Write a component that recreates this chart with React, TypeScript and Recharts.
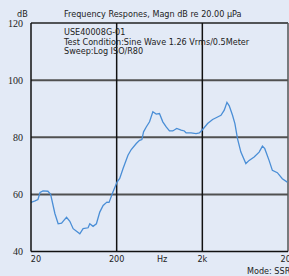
import React from "react";
import { LineChart, Line, XAxis, YAxis, ReferenceLine } from "recharts";

const freqHz = [
  20, 22.3, 24.1, 25.5, 27.6, 31.5, 33.9, 38.0, 41.5, 45.5, 48.4, 52.0, 56.8, 62.1, 68.0, 74.3,
  81.1, 92.8, 97.1, 106, 116, 127, 139, 154, 163, 181, 202, 217, 237, 271, 296, 339, 370, 394,
  412, 443, 484, 529, 579, 632, 691, 757, 827, 903, 1005, 1131, 1235, 1293, 1478, 1689, 1846,
  2016, 2305, 2636, 3013, 3300, 3606, 3876, 4122, 4502, 4800, 5146, 5636, 6444, 7039, 8050,
  9203, 10056, 10716, 12024, 13138, 15016, 17172, 19630,
];
const magnDb = [
  57.2, 57.7, 58.2, 60.7, 61.2, 61.1, 60.0, 53.3, 49.7, 49.9, 50.9, 52.0, 50.6, 48.0, 47.1, 46.2,
  48.0, 48.3, 49.7, 48.8, 49.7, 53.8, 56.1, 57.3, 57.2, 60.8, 64.3, 65.6, 69.0, 73.7, 75.7, 77.8,
  78.9, 79.2, 81.9, 83.6, 85.4, 88.9, 88.1, 88.3, 85.4, 83.6, 82.2, 82.2, 83.1, 82.5, 82.2, 81.5,
  81.5, 81.3, 81.5, 82.7, 84.8, 86.2, 87.1, 87.7, 89.5, 92.2, 91.0, 87.7, 84.8, 79.5, 74.8, 70.8,
  71.9, 73.1, 74.8, 76.9, 76.0, 71.9, 68.4, 67.6, 65.5, 64.3,
];
const xTicks = [20, 200, 2000, 20000];
const xTickLabels = ["20", "200", "2k", "20k"];
const yTicks = [40, 60, 80, 100, 120];
const hGrid = [60, 80, 100];
const vGrid = [200, 2000];
const titleText = "Frequency Respones, Magn dB re 20.00 µPa";
const noteLines = [
  "USE40008G-01",
  "Test Condition:Sine Wave 1.26 Vrms/0.5Meter",
  "Sweep:Log ISO/R80",
];

const data = freqHz.map((f, i) => ({ f, db: magnDb[i] }));

const SANS = "'DejaVu Sans', Verdana, sans-serif";
const SERIF = "'Liberation Serif', 'Times New Roman', serif";
const BG = "#e3eaf6";
const FS = 8.1;

const XTick = (props: any) => {
  const { x, y, payload } = props;
  const idx = xTicks.indexOf(payload.value);
  const label = idx >= 0 ? xTickLabels[idx] : String(payload.value);
  const dx = payload.value === 20 ? 5 : 0;
  return (
    <text x={x + dx} y={y} dy={2.5} textAnchor="middle" fontFamily={SANS} fontSize={FS} fill="#222">
      {label}
    </text>
  );
};

const YTick = (props: any) => {
  const { x, y, payload } = props;
  return (
    <text x={x} y={y} dy={3.5} textAnchor="end" fontFamily={SERIF} fontSize={10} fill="#222">
      {payload.value}
    </text>
  );
};

export default function App() {
  return (
    <div style={{ position: "absolute", left: 0, top: 0, width: 289, height: 276, background: BG, overflow: "hidden" }}>
      <LineChart width={289} height={276} data={data} margin={{ top: 23, right: 1, bottom: 4.5, left: 0 }}>
        <XAxis
          dataKey="f"
          type="number"
          scale="log"
          domain={[20, 20000]}
          ticks={xTicks}
          allowDataOverflow
          height={20}
          axisLine={{ stroke: "#111", strokeWidth: 1.5 }}
          tickLine={false}
          tick={<XTick />}
          interval={0}
        />
        <YAxis
          type="number"
          domain={[40, 120]}
          ticks={yTicks}
          width={31}
          axisLine={{ stroke: "#111", strokeWidth: 1.5 }}
          tickLine={false}
          tick={<YTick />}
          interval={0}
        />
        {hGrid.map((v) => (
          <ReferenceLine key={"h" + v} y={v} stroke="#505050" strokeWidth={2} />
        ))}
        <ReferenceLine y={120} stroke="#222" strokeWidth={1.5} />
        {vGrid.map((v) => (
          <ReferenceLine key={"v" + v} x={v} stroke="#111" strokeWidth={1.5} />
        ))}
        <ReferenceLine x={20000} stroke="#555" strokeWidth={1.5} />
        <Line
          dataKey="db"
          type="linear"
          stroke="#4a8ed6"
          strokeWidth={1.3}
          dot={false}
          isAnimationActive={false}
        />
      </LineChart>
      <svg width={289} height={276} style={{ position: "absolute", left: 0, top: 0, pointerEvents: "none" }}>
        <text x={17} y={17} fontFamily={SANS} fontSize={FS} fill="#222">dB</text>
        <text x={64} y={17} fontFamily={SANS} fontSize={FS} fill="#222">{titleText}</text>
        {noteLines.map((t, i) => (
          <text key={i} x={64} y={35 + i * 9.5} fontFamily={SANS} fontSize={FS} fill="#222">{t}</text>
        ))}
        <text x={157} y={262} fontFamily={SANS} fontSize={FS} fill="#222">Hz</text>
        <text x={247} y={274} fontFamily={SANS} fontSize={FS} fill="#222">Mode: SSR</text>
      </svg>
    </div>
  );
}
